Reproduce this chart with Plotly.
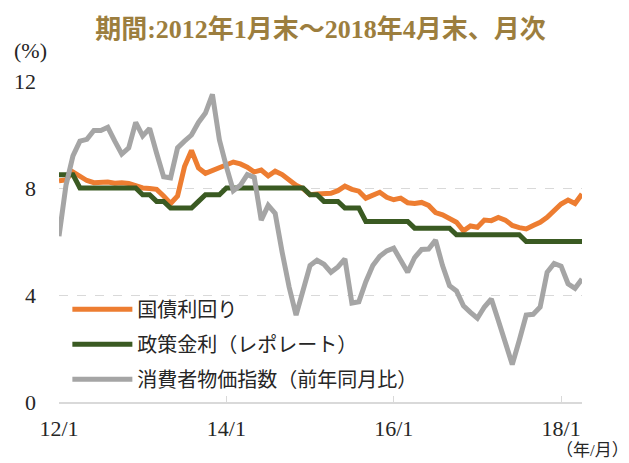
import plotly.graph_objects as go

# Month categories 2012/1 .. 2018/4
months = [f"{y}/{m}" for y in range(2012, 2019) for m in range(1, 13)][:76]

bond_yield = [8.27, 8.30, 8.60, 8.42, 8.28, 8.20, 8.22, 8.22, 8.18, 8.20, 8.17, 8.08,
              8.00, 7.98, 7.95, 7.70, 7.42, 7.70, 8.80, 9.40, 8.75, 8.55, 8.65, 8.80,
              8.90, 8.97, 8.90, 8.78, 8.60, 8.67, 8.45, 8.63, 8.50, 8.28, 8.10, 7.98,
              7.75, 7.78, 7.80, 7.80, 7.90, 8.07, 7.95, 7.88, 7.62, 7.72, 7.84, 7.65,
              7.56, 7.62, 7.45, 7.42, 7.46, 7.35, 7.08, 7.00, 6.88, 6.72, 6.40, 6.58,
              6.53, 6.80, 6.78, 6.90, 6.80, 6.60, 6.52, 6.47, 6.60, 6.72, 6.90, 7.12,
              7.40, 7.55, 7.42, 7.78]

policy_rate = [8.50, 8.50, 8.50, 8.00, 8.00, 8.00, 8.00, 8.00, 8.00, 8.00, 8.00, 8.00,
               7.75, 7.75, 7.50, 7.50, 7.25, 7.25, 7.25, 7.25, 7.50, 7.75, 7.75, 7.75,
               8.00, 8.00, 8.00, 8.00, 8.00, 8.00, 8.00, 8.00, 8.00, 8.00, 8.00, 8.00,
               7.75, 7.75, 7.50, 7.50, 7.50, 7.25, 7.25, 7.25, 6.75, 6.75, 6.75, 6.75,
               6.75, 6.75, 6.75, 6.50, 6.50, 6.50, 6.50, 6.50, 6.50, 6.25, 6.25, 6.25,
               6.25, 6.25, 6.25, 6.25, 6.25, 6.25, 6.25, 6.00, 6.00, 6.00, 6.00, 6.00,
               6.00, 6.00, 6.00, 6.00]

cpi = [6.20, 8.10, 9.20, 9.75, 9.82, 10.15, 10.15, 10.27, 9.75, 9.27, 9.50, 10.45,
       9.95, 10.23, 9.30, 8.42, 8.38, 9.50, 9.75, 9.98, 10.45, 10.80, 11.50, 9.80,
       8.80, 7.90, 8.10, 8.50, 8.40, 6.80, 7.35, 7.05, 5.60, 4.30, 3.25, 4.20,
       5.10, 5.30, 5.15, 4.85, 5.05, 5.35, 3.70, 3.75, 4.50, 5.10, 5.45, 5.65,
       5.75, 5.30, 4.85, 5.40, 5.70, 5.72, 6.05, 5.10, 4.35, 4.15, 3.60, 3.35,
       3.13, 3.55, 3.85, 3.05, 2.20, 1.40, 2.30, 3.25, 3.28, 3.55, 4.85, 5.18,
       5.08, 4.42, 4.25, 4.60]

series_names = ["国債利回り", "政策金利（レポレート）", "消費者物価指数（前年同月比）"]
series_colors = ["#ED7D31", "#3A5A22", "#A5A5A5"]

tick_vals = ["2012/1", "2014/1", "2016/1", "2018/1"]
tick_text = ["12/1", "14/1", "16/1", "18/1"]
y_ticks = [0, 4, 8, 12]

SERIF = "Liberation Serif, Noto Sans CJK JP, serif"
CJK = "Noto Sans CJK JP, sans-serif"

fig = go.Figure()
for i, (name, vals, col) in enumerate(zip(series_names, [bond_yield, policy_rate, cpi], series_colors)):
    fig.add_trace(go.Scatter(
        x=months, y=vals, mode="lines", name=name,
        line=dict(color=col, width=5), legendgroup=f"g{i}",
    ))

L, R, T, B = 59, 47, 81, 61
W, H = 629 - L - R, 463 - T - B

fig.update_layout(
    width=629, height=463,
    margin=dict(l=L, r=R, t=T, b=B),
    paper_bgcolor="white", plot_bgcolor="white",
    title=dict(text="期間:2012年1月末～2018年4月末、月次",
               font=dict(family=SERIF, size=26, color="#9C7E3E", weight="bold"),
               x=0.5, xref="paper", xanchor="center",
               y=1 - 29 / 463, yref="container", yanchor="middle"),
    showlegend=True,
    legend=dict(x=0.016, y=0.35, xanchor="left", yanchor="top",
                bgcolor="rgba(0,0,0,0)", font=dict(family=CJK, size=20, color="#262626"),
                traceorder="grouped", tracegroupgap=6, itemwidth=60),
    xaxis=dict(type="category", range=[0, 75], tickmode="array",
               tickvals=tick_vals, ticktext=tick_text,
               showgrid=False, showline=True, linecolor="#D9D9D9", linewidth=1.5,
               ticks="inside", ticklen=6, tickcolor="#D9D9D9",
               ticklabelstandoff=6,
               tickfont=dict(family=SERIF, size=22, color="#262626"), zeroline=False),
    yaxis=dict(range=[0, 12], tickvals=y_ticks, showgrid=True, gridcolor="#D9D9D9",
               griddash="dash", gridwidth=1, showline=False, zeroline=False,
               ticks="", ticklabelstandoff=22,
               tickfont=dict(family=SERIF, size=22, color="#262626")),
    annotations=[
        dict(text="(%)", x=(30 - L) / W, y=(463 - B - 50) / H, xref="paper", yref="paper",
             xanchor="center", yanchor="middle", showarrow=False,
             font=dict(family=SERIF, size=22, color="#262626")),
        dict(text="（年/月）", x=(592 - L) / W, y=(463 - B - 450) / H, xref="paper", yref="paper",
             xanchor="center", yanchor="middle", showarrow=False,
             font=dict(family=SERIF, size=17, color="#262626")),
    ],
)

fig.write_html("out.html", config={"displayModeBar": False},
               post_script="document.body.style.margin='0';")
